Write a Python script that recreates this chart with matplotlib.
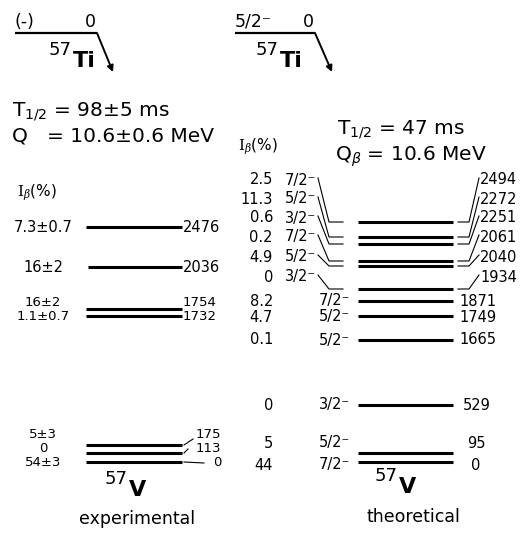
import numpy as np
import matplotlib
matplotlib.use('Agg')
import matplotlib.pyplot as plt

plt.rcParams['font.family'] = 'DejaVu Sans'
plt.rcParams['mathtext.fontset'] = 'dejavusans'

# ---- data (energies in keV, spins, beta feeding in %) ----
exp_energy = [2476, 2036, 1754, 1732, 175, 113, 0]
exp_ib = ['7.3±0.7', '16±2', '16±2', '1.1±0.7', '5±3', '0', '54±3']

th_energy = [2494, 2272, 2251, 2061, 2040, 1934, 1871, 1749, 1665, 529, 95, 0]
th_spin = ['7/2', '5/2', '3/2', '7/2', '5/2', '3/2', '7/2', '5/2', '5/2', '3/2', '5/2', '7/2']
th_ib = ['2.5', '11.3', '0.6', '0.2', '4.9', '0', '8.2', '4.7', '0.1', '0', '5', '44']

exp_parent = ('(-)', '0', '98±5 ms', '10.6±0.6 MeV')
th_parent = ('5/2⁻', '0', '47 ms', '10.6 MeV')

# ---- schematic layout (pixels, y grows downward) ----
exp_line_y = [227, 267, 309, 316, 445, 453, 462]
exp_text_y = [227, 267, 303, 317, 435, 449, 463]
th_line_y = [222, 237, 244, 261, 266, 289, 301, 316, 340, 405, 453, 462]
th_text_y = [180, 199, 218, 237, 257, 277, 301, 317, 340, 405, 443, 465]

fig = plt.figure(figsize=(5.30, 5.36), dpi=100, facecolor='white')
ax = fig.add_axes([0, 0, 1, 1])
ax.set_xlim(0, 530)
ax.set_ylim(536, 0)
ax.axis('off')

lw_lvl = 2.2
lw_thin = 0.8
fs = 10.5
fs_tight = 9.5   # stacked labels of close-lying levels


def parent(x0, x1, xa, spin, e):
    ax.plot([x0, x1], [33, 33], color='k', lw=1.6, solid_capstyle='butt')
    ax.annotate('', xy=(xa, 72), xytext=(x1, 33),
                arrowprops=dict(arrowstyle='-|>', color='k', lw=1.4, mutation_scale=9,
                                shrinkA=0, shrinkB=0))
    ax.text(x0, 22, spin, fontsize=12.5, ha='left', va='center')
    ax.text(x1 - 7, 22, e, fontsize=12.5, ha='center', va='center')


def nucleus(x, y, name, fsz):
    ax.text(x, y - 3, '57', fontsize=fsz - 3, ha='right', va='center')
    ax.text(x + 1, y + 8, name, fontsize=fsz, fontweight='bold', ha='left', va='center')


# ---------------- experimental (left) ----------------
parent(15, 97, 113, exp_parent[0], exp_parent[1])
nucleus(72, 53, 'Ti', 16)
ax.text(12, 112, r'T$_{1/2}$ = ' + exp_parent[2], fontsize=14.5, ha='left', va='center')
ax.text(12, 136, 'Q   = ' + exp_parent[3], fontsize=14.5, ha='left', va='center')
ax.text(17, 193, r'$\mathrm{I}_{\beta}$(%)', fontsize=11, ha='left', va='center',
        math_fontfamily='dejavuserif')

for i, (e, ib) in enumerate(zip(exp_energy, exp_ib)):
    y = exp_line_y[i]
    ty = exp_text_y[i]
    f = fs if i < 2 else fs_tight
    xs = 88 if e == 2036 else 86
    ax.plot([xs, 182], [y, y], color='k', lw=lw_lvl, solid_capstyle='butt')
    ax.text(43, ty, ib, fontsize=f, ha='center', va='center')
    if e >= 1000:
        ax.text(183, ty, str(e), fontsize=f, ha='left', va='center')
    else:
        lead_end = {175: 193, 113: 188, 0: 204}[e]
        ax.plot([184, lead_end], [y, ty + (4 if e == 175 else 0)], color='k', lw=lw_thin)
        ax.text(221, ty, str(e), fontsize=f, ha='right', va='center')

nucleus(128, 482, 'V', 16)
ax.text(137, 519, 'experimental', fontsize=12.5, ha='center', va='center')

# ---------------- theoretical (right) ----------------
parent(235, 315, 332, th_parent[0], th_parent[1])
nucleus(279, 53, 'Ti', 16)
ax.text(337, 130, r'T$_{1/2}$ = ' + th_parent[2], fontsize=14.5, ha='left', va='center')
ax.text(335, 157, r'Q$_{\beta}$ = ' + th_parent[3], fontsize=14.5, ha='left', va='center')
ax.text(238, 147, r'$\mathrm{I}_{\beta}$(%)', fontsize=11, ha='left', va='center',
        math_fontfamily='dejavuserif')

for i, (e, sp, ib) in enumerate(zip(th_energy, th_spin, th_ib)):
    y = th_line_y[i]
    ty = th_text_y[i]
    ax.plot([358, 453], [y, y], color='k', lw=lw_lvl, solid_capstyle='butt')
    ax.text(273, ty, ib, fontsize=fs, ha='right', va='center')
    lab = sp + '⁻'
    if i < 6:
        # crowded levels: labels fanned out with leader lines
        ax.text(285, ty, lab, fontsize=fs, ha='left', va='center')
        ax.plot([318, 329, 343], [ty - 2, y, y], color='k', lw=lw_thin)
        ax.plot([458, 469, 479], [y, y, ty - 2], color='k', lw=lw_thin)
        ax.text(480, ty, str(e), fontsize=fs, ha='left', va='center')
    else:
        ax.text(319, ty, lab, fontsize=fs, ha='left', va='center')
        if e >= 1000:
            ax.text(459, ty, str(e), fontsize=fs, ha='left', va='center')
        elif e > 100:
            ax.text(463, ty, str(e), fontsize=fs, ha='left', va='center')
        else:
            ax.text(476, ty, str(e), fontsize=fs, ha='center', va='center')

nucleus(398, 479, 'V', 16)
ax.text(413, 517, 'theoretical', fontsize=12.5, ha='center', va='center')

fig.savefig('out.png', dpi=100, facecolor='white')
